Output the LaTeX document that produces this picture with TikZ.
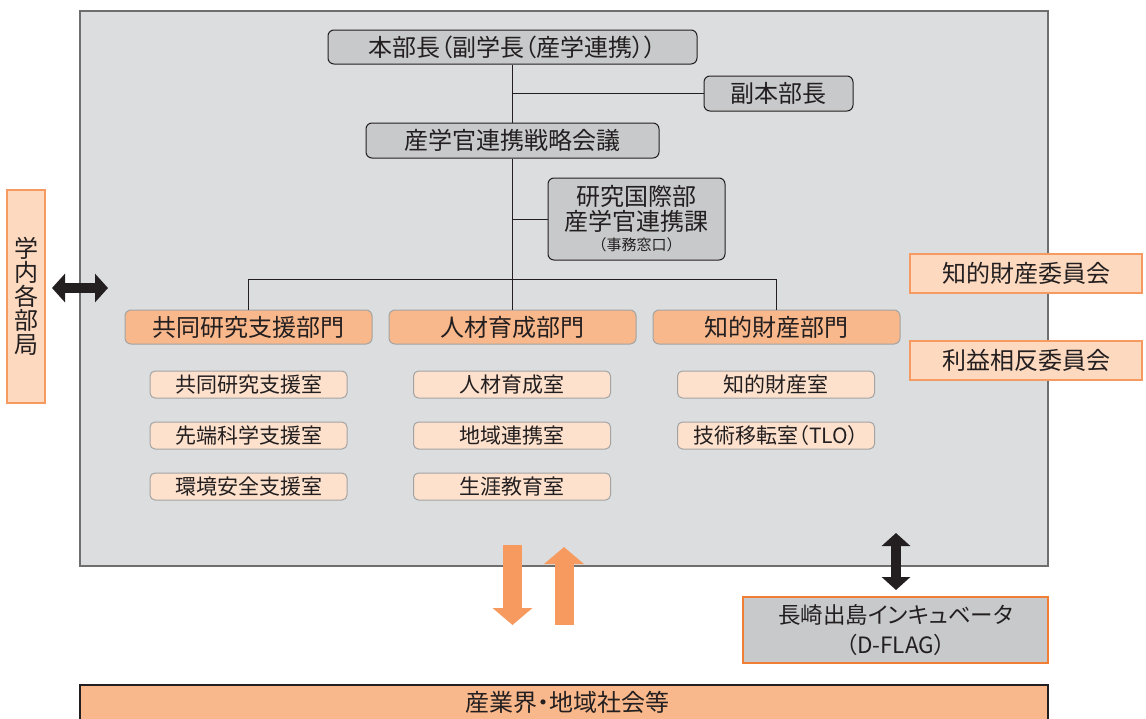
\documentclass[tikz,border=0pt]{standalone}
\usepackage{fontspec}
\setmainfont{Noto Sans CJK JP}[RawFeature=+palt]
\newfontfamily\jpfw{Noto Sans CJK JP}
\usetikzlibrary{arrows.meta,calc}
\definecolor{bggray}{HTML}{DCDDDE}
\definecolor{bgline}{HTML}{6E6E6E}
\definecolor{boxgray}{HTML}{C8C9CA}
\definecolor{dk}{HTML}{231F20}
\definecolor{dept}{HTML}{F9B88B}
\definecolor{room}{HTML}{FDE1CC}
\definecolor{bd}{HTML}{A3A3A3}
\definecolor{comm}{HTML}{FDD9BF}
\definecolor{commline}{HTML}{F59B62}
\definecolor{oarrow}{HTML}{F69A60}
\definecolor{dflagline}{HTML}{F07E35}
\tikzset{
  base/.style={inner sep=0pt, text=dk, align=center},
  topbox/.style={base, draw=dk, fill=boxgray, rounded corners=6pt, line width=1pt, font=\fontsize{24}{28}\selectfont},
  deptbox/.style={base, draw=bd, fill=dept, rounded corners=6pt, line width=1pt, minimum width=247pt, minimum height=34pt, font=\fontsize{24}{28}\selectfont},
  roombox/.style={base, draw=bd, fill=room, rounded corners=5pt, line width=1pt, minimum width=197pt, minimum height=27pt, font=\fontsize{21}{24}\selectfont},
  commbox/.style={base, draw=commline, fill=comm, line width=2.2pt, minimum width=232pt, minimum height=39pt, font=\fontsize{24}{28}\selectfont},
  conn/.style={draw=dk, line width=0.9pt},
  blkarrow/.style={draw=dk, line width=10pt, {Triangle[length=13pt,width=28pt]}-{Triangle[length=13pt,width=28pt]}},
  orgarrow/.style={draw=oarrow, line width=19pt, -{Triangle[length=17pt,width=39pt]}},
}
\begin{document}
\begin{tikzpicture}[x=1pt,y=-1pt]
\useasboundingbox (0,0) rectangle (1146,718);
\clip (0,0) rectangle (1146,718);
% main background
\node[draw=bgline, fill=bggray, line width=1.3pt, minimum width=968pt, minimum height=555pt, inner sep=0pt] (main) at (564,288.5) {};
% bottom bar
\node[draw=dk, fill=dept, line width=1.3pt, minimum width=968pt, minimum height=40pt, inner sep=0pt] (bar) at (564,705) {};
\node[base, font=\fontsize{24}{28}\selectfont] (bartext) at (567,702) {産業界・地域社会等};
% top nodes
\node[topbox, minimum width=369pt, minimum height=34pt] (honbu) at (512.5,47) {本部長（副学長（産学連携））};
\node[topbox, minimum width=149pt, minimum height=35pt] (fuku) at (778.5,93.5) {副本部長};
\node[topbox, minimum width=293pt, minimum height=35pt] (senryaku) at (512.5,140.5) {産学官連携戦略会議};
\node[topbox, minimum width=177pt, minimum height=82pt] (kenkyu) at (636.5,219) {研究国際部\\[-3pt]産学官連携課\\[-8pt]{\jpfw\fontsize{15}{18}\selectfont（事務窓口）}};
% departments
\node[deptbox] (dept1) at (248.5,327) {共同研究支援部門};
\node[deptbox] (dept2) at (512.5,327) {人材育成部門};
\node[deptbox] (dept3) at (776.5,327) {知的財産部門};
% rooms
\node[roombox] (r11) at (248.5,384.5) {共同研究支援室};
\node[roombox] (r12) at (248.5,435.5) {先端科学支援室};
\node[roombox] (r13) at (248.5,486.5) {環境安全支援室};
\node[roombox] (r21) at (512,384.5) {人材育成室};
\node[roombox] (r22) at (512,435.5) {地域連携室};
\node[roombox] (r23) at (512,486.5) {生涯教育室};
\node[roombox] (r31) at (776,384.5) {知的財産室};
\node[roombox] (r32) at (776,435.5) {技術移転室（TLO）};
% committees
\node[commbox] (comm1) at (1026,273.5) {知的財産委員会};
\node[commbox] (comm2) at (1026,360.5) {利益相反委員会};
% left box
\node[commbox, minimum width=38pt, minimum height=213pt, font=\fontsize{24}{24}\selectfont] (gakunai) at (26,296.5) {学\\内\\各\\部\\局};
% D-FLAG
\node[base, draw=dflagline, fill=boxgray, line width=2.2pt, minimum width=305pt, minimum height=66pt, font=\fontsize{22.5}{30}\selectfont] (dflag) at (895.5,630) {長崎出島インキュベータ\\（D-FLAG）};
% connectors
\draw[conn] (honbu.south) -- (senryaku.north);
\draw[conn] (honbu.south |- fuku.west) -- (fuku.west);
\draw[conn] (senryaku.south) -- (dept2.north);
\draw[conn] (senryaku.south |- kenkyu.west) -- (kenkyu.west);
\draw[conn] (dept1.north) -- ++(0,-30) -| (dept3.north);
% arrows
\coordinate (la) at (52,288);
\coordinate (lb) at (108,288);
\draw[blkarrow] (la) -- (lb);
\coordinate (va) at (896,533);
\coordinate (vb) at (896,590);
\draw[blkarrow] (va) -- (vb);
\coordinate (da) at (512.5,545);
\coordinate (db) at (512.5,625);
\draw[orgarrow] (da) -- (db);
\coordinate (ua) at (564,625);
\coordinate (ub) at (564,547);
\draw[orgarrow] (ua) -- (ub);
\end{tikzpicture}
\end{document}
